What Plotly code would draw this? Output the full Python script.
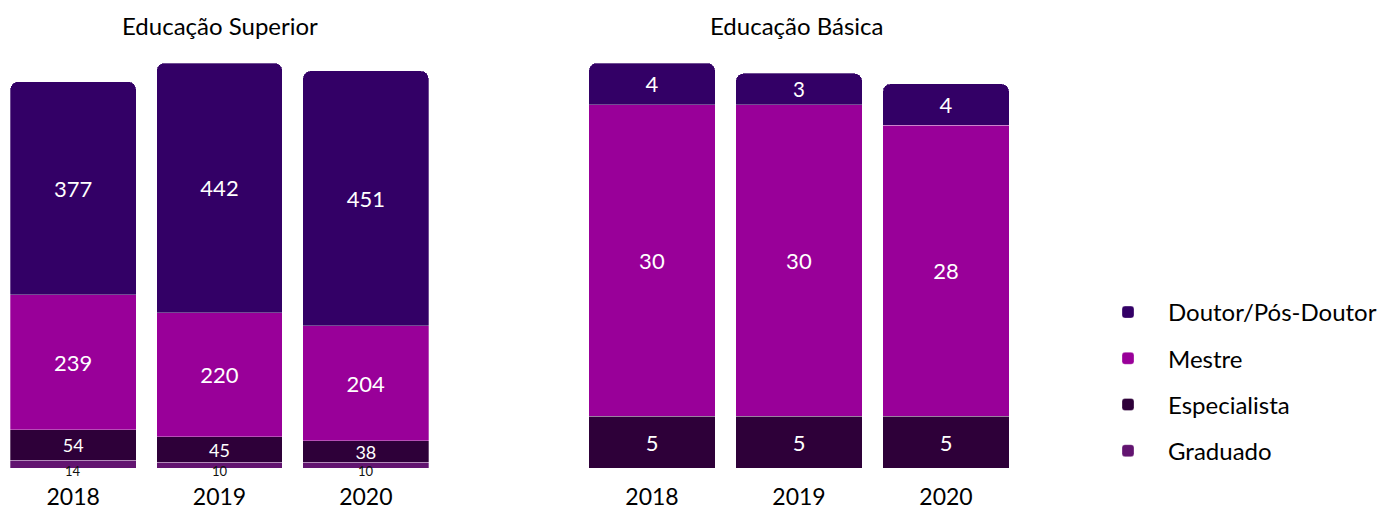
import plotly.graph_objects as go

years = ["2018", "2019", "2020"]

sup_graduado = [14, 10, 10]
sup_especialista = [54, 45, 38]
sup_mestre = [239, 220, 204]
sup_doutor = [377, 442, 451]

bas_especialista = [5, 5, 5]
bas_mestre = [30, 30, 28]
bas_doutor = [4, 3, 4]

colors = {
    "Doutor/Pós-Doutor": "#330066",
    "Mestre": "#990099",
    "Especialista": "#2E0039",
    "Graduado": "#621470",
}
ranks = {"Doutor/Pós-Doutor": 1, "Mestre": 2, "Especialista": 3, "Graduado": 4}

FONT = "Lato, 'Open Sans', sans-serif"
W, H = 1381, 510

fig = go.Figure()

def add_bar(name, vals, xaxis, yaxis, show, size, text=True):
    fig.add_trace(go.Bar(
        name=name, x=years, y=vals, xaxis=xaxis, yaxis=yaxis,
        marker=dict(color=colors[name], line=dict(width=0.6, color="rgba(255,255,255,0.5)")),
        text=[str(v) for v in vals] if text else None,
        textposition="inside" if text else "none",
        insidetextanchor="middle",
        constraintext="none",
        textangle=0,
        textfont=dict(color="white", size=size, family=FONT),
        showlegend=show, legendgroup=name, legendrank=ranks[name],
        hoverinfo="x+y+name",
    ))

# Educação Superior
add_bar("Graduado", sup_graduado, "x", "y", True, 12, text=False)
add_bar("Especialista", sup_especialista, "x", "y", True, 18)
add_bar("Mestre", sup_mestre, "x", "y", True, 22)
add_bar("Doutor/Pós-Doutor", sup_doutor, "x", "y", True, 22)

# Educação Básica
add_bar("Especialista", bas_especialista, "x2", "y2", False, 22)
add_bar("Mestre", bas_mestre, "x2", "y2", False, 22)
add_bar("Doutor/Pós-Doutor", bas_doutor, "x2", "y2", False, 22)

# small Graduado labels below the bars (x = category index)
for i, v in enumerate(sup_graduado):
    fig.add_annotation(x=i, y=0, xref="x", yref="y", text=str(v), showarrow=False,
                       xanchor="center", yanchor="middle", yshift=-3,
                       font=dict(size=13, color="#111111", family=FONT))

ybot = (H - 468) / H
ytop = (H - 63) / H

axis_common = dict(type="category", range=[-0.5, len(years) - 0.5],
                   showgrid=False, zeroline=False, showline=False, ticks="",
                   tickfont=dict(size=23, color="black", family=FONT),
                   ticklabelstandoff=13, fixedrange=True)

fig.update_layout(
    width=W, height=H,
    margin=dict(l=0, r=0, t=0, b=0, autoexpand=False),
    paper_bgcolor="white", plot_bgcolor="white",
    barmode="stack", bargap=0.14, barcornerradius=8,
    font=dict(family=FONT, color="black"),
    xaxis=dict(domain=[0, 439 / W], **axis_common),
    xaxis2=dict(domain=[578.5 / W, 1019.5 / W], anchor="y2", **axis_common),
    yaxis=dict(domain=[ybot, ytop], range=[0, 717], visible=False, fixedrange=True),
    yaxis2=dict(domain=[ybot, ytop], range=[0, 39], visible=False, anchor="x2", fixedrange=True),
    legend=dict(x=1088 / W, y=(H - 290) / H, xanchor="left", yanchor="top",
                traceorder="grouped", tracegroupgap=12, itemwidth=70,
                font=dict(size=24, color="black", family=FONT),
                bgcolor="rgba(0,0,0,0)"),
    showlegend=True,
)

fig.add_annotation(x=220 / W, y=(H - 25) / H, xref="paper", yref="paper",
                   text="Educação Superior", showarrow=False,
                   xanchor="center", yanchor="middle",
                   font=dict(size=24, color="black", family=FONT))
fig.add_annotation(x=797 / W, y=(H - 25) / H, xref="paper", yref="paper",
                   text="Educação Básica", showarrow=False,
                   xanchor="center", yanchor="middle",
                   font=dict(size=24, color="black", family=FONT))

fig.write_html("out.html", config={"displayModeBar": False},
               post_script="document.body.style.margin='0';")
